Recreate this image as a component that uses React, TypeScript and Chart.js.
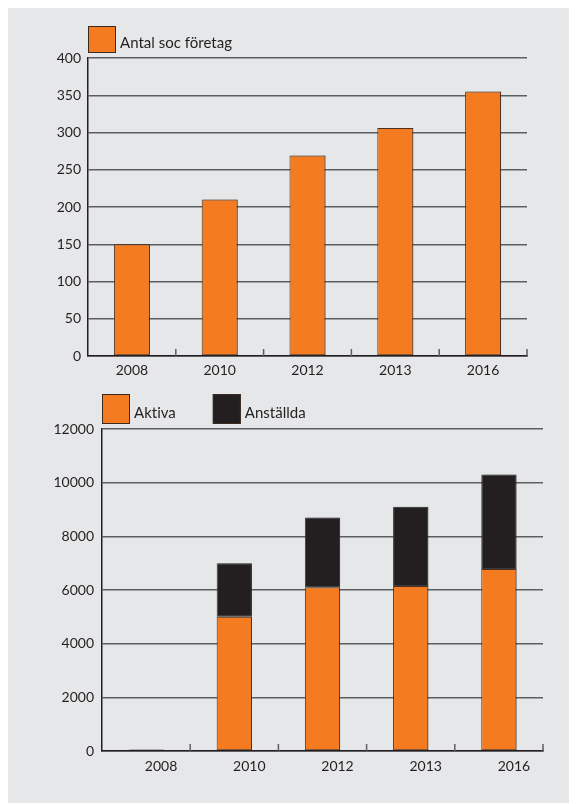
import React, { useEffect, useRef } from "react";
import { Chart, registerables } from "chart.js";

Chart.register(...registerables);

const years = ["2008", "2010", "2012", "2013", "2016"];
const antalSoc = [150, 210, 269, 306, 355];
const aktiva = [0, 5000, 6100, 6150, 6780];
const anstallda = [60, 2000, 2600, 2950, 3520];

const topTicks = { min: 0, max: 400, step: 50 };
const bottomTicks = { min: 0, max: 12000, step: 2000 };

const ORANGE = "#f47b20";
const BLACK = "#231f20";
const BG = "#e6e7e8";
const GRID = "#5d5e60";
const FONT = "Lato, 'Open Sans', sans-serif";

type LegendItem = { label: string; color: string };

function legendPlugin(items: LegendItem[], boxTop: number, boxW: number, boxH: number, gap: number, textBaseline: number) {
  return {
    id: "customLegend",
    afterDraw(chart: any) {
      const ctx = chart.ctx;
      let x = chart.chartArea.left;
      ctx.save();
      ctx.font = `15px ${FONT}`;
      try {
        (ctx as any).letterSpacing = "0.01px";
      } catch (e) {}
      items.forEach((it) => {
        ctx.fillStyle = it.color;
        ctx.fillRect(x, boxTop, boxW, boxH);
        ctx.strokeStyle = "#3b2a20";
        ctx.lineWidth = 1;
        ctx.strokeRect(x + 0.5, boxTop + 0.5, boxW - 1, boxH - 1);
        ctx.fillStyle = BLACK;
        ctx.textBaseline = "alphabetic";
        ctx.textAlign = "left";
        ctx.fillText(it.label, x + boxW + 4, textBaseline);
        x += boxW + 4 + ctx.measureText(it.label).width + gap;
      });
      ctx.restore();
    },
  };
}

const boundaryTicks = {
  id: "boundaryTicks",
  afterDraw(chart: any) {
    const sx = chart.scales.x;
    const n = chart.data.labels.length;
    const w = sx.width / n;
    const ctx = chart.ctx;
    const bottom = chart.chartArea.bottom;
    ctx.save();
    ctx.strokeStyle = GRID;
    ctx.lineWidth = 1.5;
    for (let i = 1; i <= n; i++) {
      const x = sx.getPixelForValue(0) - w / 2 + i * w;
      ctx.beginPath();
      ctx.moveTo(x, bottom);
      ctx.lineTo(x, bottom - 7);
      ctx.stroke();
    }
    ctx.restore();
  },
};

const shadowPlugin = {
  id: "barShadow",
  beforeDatasetsDraw(chart: any) {
    const ctx = chart.ctx;
    ctx.save();
    ctx.shadowColor = "rgba(0,0,0,0.28)";
    ctx.shadowOffsetX = 2;
    ctx.shadowOffsetY = 0;
    ctx.shadowBlur = 0;
  },
  afterDatasetsDraw(chart: any) {
    chart.ctx.restore();
  },
};

function baseOptions(yWidth: number, xHeight: number, pad: any, ticks: { min: number; max: number; step: number }, yPad: number, xPad: number, labelOffset: number, stacked: boolean) {
  return {
    responsive: false,
    animation: false as const,
    layout: { padding: pad },
    plugins: { legend: { display: false }, tooltip: { enabled: false } },
    scales: {
      x: {
        stacked,
        grid: { display: false, drawTicks: false },
        border: { display: true, color: BLACK, width: 1.5 },
        ticks: {
          color: BLACK,
          font: { family: FONT, size: 14 },
          padding: xPad,
          labelOffset,
          maxRotation: 0,
        },
        afterFit: (s: any) => {
          s.height = xHeight;
        },
      },
      y: {
        stacked,
        min: ticks.min,
        max: ticks.max,
        grid: { color: GRID, lineWidth: 1.5, drawTicks: false },
        border: { display: true, color: BLACK, width: 1.5 },
        ticks: {
          stepSize: ticks.step,
          color: BLACK,
          font: { family: FONT, size: 14 },
          padding: yPad,
          callback: (v: any) => String(v),
        },
        afterFit: (s: any) => {
          s.width = yWidth;
        },
      },
    },
  };
}

export default function App() {
  const topRef = useRef<HTMLCanvasElement>(null);
  const botRef = useRef<HTMLCanvasElement>(null);

  useEffect(() => {
    const top = new Chart(topRef.current!, {
      type: "bar",
      data: {
        labels: years,
        datasets: [
          {
            label: "Antal soc företag",
            data: antalSoc,
            backgroundColor: ORANGE,
            borderColor: "#4a3020",
            borderWidth: 1,
            borderSkipped: false,
            barPercentage: 1,
            categoryPercentage: 0.41,
          },
        ],
      },
      options: baseOptions(80, 29, { left: 0, right: 50, top: 50, bottom: 0 }, topTicks, 7, 6, 0, false) as any,
      plugins: [shadowPlugin, boundaryTicks, legendPlugin([{ label: "Antal soc företag", color: ORANGE }], 18, 28, 27, 30, 40)],
    });

    const bot = new Chart(botRef.current!, {
      type: "bar",
      data: {
        labels: years,
        datasets: [
          {
            label: "Aktiva",
            data: aktiva,
            backgroundColor: ORANGE,
            borderColor: "#4a3020",
            borderWidth: 1,
            borderSkipped: false,
            barPercentage: 1,
            categoryPercentage: 0.4,
          },
          {
            label: "Anställda",
            data: anstallda,
            backgroundColor: BLACK,
            borderColor: "#3a3a3a",
            borderWidth: 1,
            borderSkipped: false,
            barPercentage: 1,
            categoryPercentage: 0.4,
          },
        ],
      },
      options: baseOptions(94, 52, { left: 0, right: 34, top: 44, bottom: 0 }, bottomTicks, 8, 7, 15, true) as any,
      plugins: [
        shadowPlugin,
        boundaryTicks,
        legendPlugin(
          [
            { label: "Aktiva", color: ORANGE },
            { label: "Anställda", color: BLACK },
          ],
          9,
          28,
          30,
          37,
          33
        ),
      ],
    });

    return () => {
      top.destroy();
      bot.destroy();
    };
  }, []);

  return (
    <div style={{ width: 569, height: 795, background: BG, fontFamily: FONT }}>
      <canvas ref={topRef} width={569} height={377} style={{ display: "block" }} />
      <canvas ref={botRef} width={569} height={418} style={{ display: "block" }} />
    </div>
  );
}
